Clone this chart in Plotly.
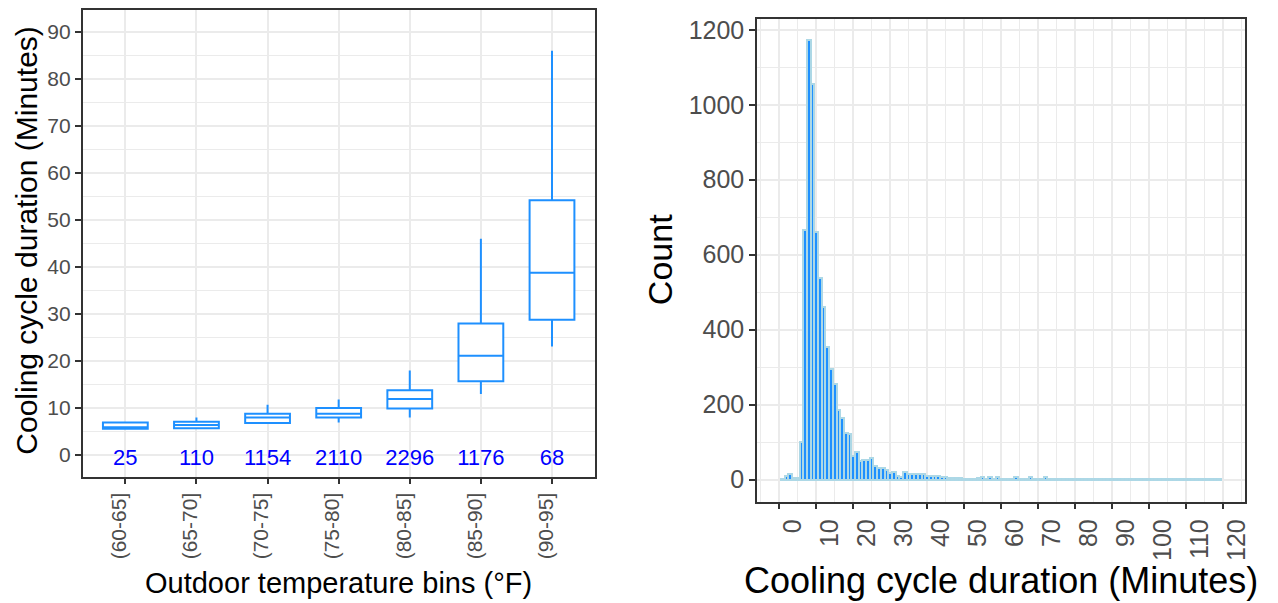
import plotly.graph_objects as go

# ---------------- data ----------------
temp_bins = ["(60-65]", "(65-70]", "(70-75]", "(75-80]", "(80-85]", "(85-90]", "(90-95]"]
q1 = [5.6, 5.7, 6.8, 8.0, 9.9, 15.7, 28.8]
median = [5.9, 6.4, 8.0, 8.8, 11.9, 21.1, 38.8]
q3 = [6.9, 7.1, 8.8, 10.0, 13.8, 28.0, 54.2]
lower_whisker = [5.5, 5.6, 6.8, 6.9, 8.0, 13.0, 23.1]
upper_whisker = [7.0, 8.0, 10.7, 11.8, 18.0, 46.0, 86.0]
n_counts = [25, 110, 1154, 2110, 2296, 1176, 68]

duration_min = list(range(1, 120))
hist_counts = [
    1, 10, 16, 4, 5, 100, 667, 1173, 1055, 661,          # 1-10
    539, 461, 354, 296, 254, 186, 165, 125, 121, 62,     # 11-20
    74, 50, 52, 52, 59, 37, 32, 32, 26, 19,              # 21-30
    20, 11, 8, 21, 16, 14, 14, 14, 16, 10,               # 31-40
    9, 9, 9, 8, 6, 5, 5, 4, 4, 3,                        # 41-50
    3, 3, 3, 4, 7, 3, 6, 3, 6, 3,                        # 51-60
    2, 3, 3, 6, 2, 2, 3, 6, 2, 2,                        # 61-70
    2, 6, 2, 1, 1, 1, 1, 1, 1, 1,                        # 71-80
    1, 1, 1, 1, 1, 1, 1, 1, 1, 1,                        # 81-90
    1, 1, 1, 1, 1, 1, 1, 1, 1, 1,                        # 91-100
    1, 1, 1, 1, 1, 1, 1, 1, 1, 1,                        # 101-110
    1, 1, 1, 1, 1, 1, 1, 1, 1,                           # 111-119
]

box_y_ticks = list(range(0, 91, 10))
hist_x_ticks = list(range(0, 121, 10))
hist_y_ticks = list(range(0, 1201, 200))

# ---------------- style ----------------
FONT = "Liberation Sans"
BLUE = "#1E90FF"
GRID = "#EBEBEB"
FRAME = "#333333"
TICKFONT_L = dict(family=FONT, size=21, color="#4D4D4D")
TICKFONT_R = dict(family=FONT, size=25, color="#4D4D4D")

fig = go.Figure()

fig.add_trace(go.Box(
    x=temp_bins, q1=q1, median=median, q3=q3,
    lowerfence=lower_whisker, upperfence=upper_whisker,
    fillcolor="white", line=dict(color=BLUE, width=2),
    whiskerwidth=0, boxpoints=False, showlegend=False,
    xaxis="x", yaxis="y",
))

fig.add_trace(go.Scatter(
    x=temp_bins, y=[-0.9] * len(temp_bins), text=[str(c) for c in n_counts],
    mode="text", textfont=dict(family=FONT, size=22, color="#0000FF"),
    showlegend=False, xaxis="x", yaxis="y",
))

fig.add_trace(go.Bar(
    x=duration_min, y=hist_counts, width=1,
    marker=dict(color=BLUE, line=dict(color="#ADD8E6", width=2)),
    showlegend=False, xaxis="x2", yaxis="y2",
))

axis_common = dict(
    showline=True, linecolor=FRAME, linewidth=1.5, mirror=True,
    ticks="outside", ticklen=6, tickcolor=FRAME, tickwidth=1.5,
    showgrid=True, gridcolor=GRID, gridwidth=1.6, zeroline=False,
)
minor_grid = dict(showgrid=True, gridcolor=GRID, gridwidth=1.3)

fig.update_layout(
    width=1278, height=603,
    margin=dict(l=0, r=0, t=0, b=0),
    paper_bgcolor="white", plot_bgcolor="white",
    bargap=0, boxgap=0.1,
    xaxis=dict(
        domain=[83 / 1278, 597 / 1278], anchor="y",
        type="category", categoryorder="array", categoryarray=temp_bins,
        range=[-0.6, 6.6], tickangle=-90, tickfont=TICKFONT_L,
        ticklabelshift=-6,
        **axis_common,
    ),
    yaxis=dict(
        domain=[1 - 476 / 603, 1 - 7 / 603], anchor="x",
        range=[-4.6, 94.7], tickvals=box_y_ticks, tickfont=TICKFONT_L,
        minor=dict(dtick=5, tick0=0, **minor_grid),
        **axis_common,
    ),
    xaxis2=dict(
        domain=[760 / 1278, 1250 / 1278], anchor="y2",
        range=[-6, 126], tickvals=hist_x_ticks, tickangle=-90, tickfont=TICKFONT_R,
        ticklabelshift=14,
        minor=dict(dtick=5, tick0=0, **minor_grid),
        **axis_common,
    ),
    yaxis2=dict(
        domain=[1 - 501 / 603, 1 - 16 / 603], anchor="x2",
        range=[-58.4, 1229], tickvals=hist_y_ticks, tickfont=TICKFONT_R,
        minor=dict(dtick=100, tick0=0, **minor_grid),
        **axis_common,
    ),
    annotations=[
        dict(text="Outdoor temperature bins (°F)", xref="paper", yref="paper",
             x=340 / 1278, y=1 - 583 / 603, xanchor="center", yanchor="middle",
             showarrow=False, font=dict(family=FONT, size=29, color="black")),
        dict(text="Cooling cycle duration (Minutes)", xref="paper", yref="paper",
             x=27 / 1278, y=1 - 238 / 603, xanchor="center", yanchor="middle",
             showarrow=False, textangle=-90,
             font=dict(family=FONT, size=30, color="black")),
        dict(text="Cooling cycle duration (Minutes)", xref="paper", yref="paper",
             x=1005 / 1278, y=1 - 580 / 603, xanchor="center", yanchor="middle",
             showarrow=False, font=dict(family=FONT, size=36, color="black")),
        dict(text="Count", xref="paper", yref="paper",
             x=662 / 1278, y=1 - 258 / 603, xanchor="center", yanchor="middle",
             showarrow=False, textangle=-90,
             font=dict(family=FONT, size=34, color="black")),
    ],
)

fig.write_html("out.html")
